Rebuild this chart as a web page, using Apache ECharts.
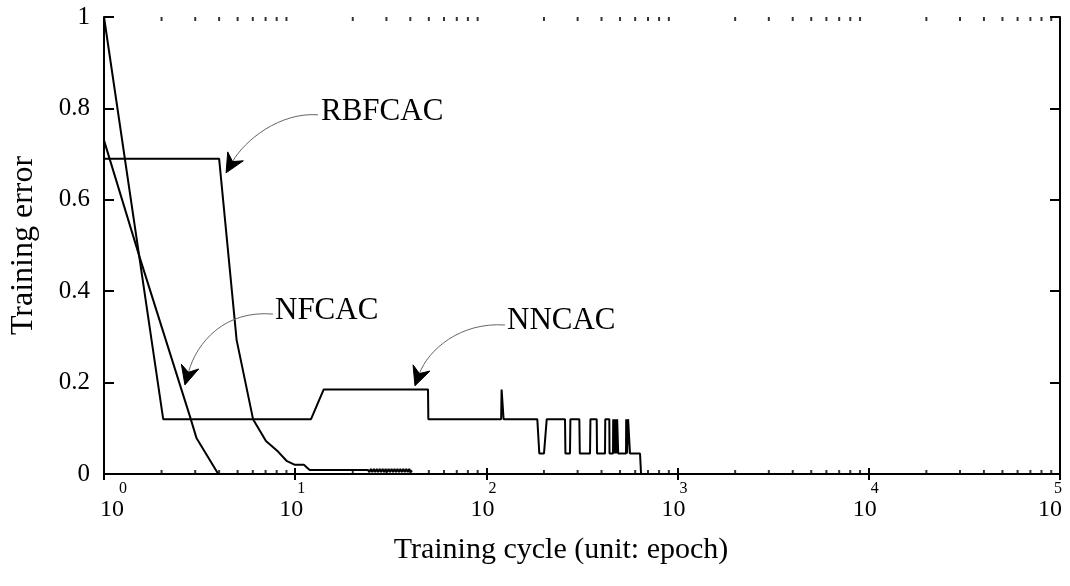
<!DOCTYPE html>
<html>
<head>
<meta charset="utf-8">
<script src="https://cdn.jsdelivr.net/npm/echarts@6/dist/echarts.min.js"></script>
<style>
html, body { margin: 0; padding: 0; background: #fff; }
#chart { width: 1070px; height: 586px; }
</style>
</head>
<body>
<div id="chart"></div>
<script>
// Training error vs. training cycle (log scale), three controllers
const nncac = [
  [1, 1.0], [2.04, 0.12], [12.1, 0.12], [14.1, 0.185], [49.5, 0.185], [49.7, 0.12],
  [119.4, 0.12], [120.1, 0.185], [123, 0.12],
  [184.6, 0.12], [189.1, 0.045], [200.1, 0.045], [206.8, 0.12],
  [257.7, 0.12], [259, 0.045], [273.6, 0.045], [275, 0.12],
  [306.2, 0.12], [308, 0.045], [348.3, 0.045], [350, 0.12],
  [377.5, 0.12], [379, 0.045], [417.2, 0.045], [418.5, 0.12],
  [439.4, 0.12], [440.5, 0.045], [459.4, 0.045], [460.5, 0.12], [465, 0.12], [466, 0.045],
  [470.6, 0.045], [471.5, 0.12], [476.3, 0.12], [477, 0.045], [482.1, 0.045], [483, 0.12],
  [487.9, 0.12], [489, 0.045], [537.2, 0.045], [538.5, 0.12], [543.7, 0.12], [544.5, 0.045],
  [550.3, 0.045], [551, 0.12], [556.9, 0.12], [563.7, 0.045],
  [636, 0.045], [644, 0], [100000, 0]
];
const rbfcac = [
  [1, 0.69], [4.0, 0.69], [4.94, 0.293], [6.02, 0.12], [7.03, 0.072], [8.13, 0.049],
  [9.06, 0.028], [9.97, 0.02], [11.1, 0.02], [11.9, 0.009], [24, 0.009],
  [24.43, 0.004], [24.87, 0.011], [25.31, 0.004], [25.77, 0.011], [26.23, 0.004], [26.70, 0.011],
  [27.18, 0.004], [27.67, 0.011], [28.16, 0.004], [28.67, 0.011], [29.18, 0.004], [29.71, 0.011],
  [30.24, 0.004], [30.78, 0.011], [31.33, 0.004], [31.90, 0.011], [32.47, 0.004], [33.05, 0.011],
  [33.64, 0.004], [34.25, 0.011], [34.86, 0.004], [35.49, 0.011], [36.12, 0.004], [36.77, 0.011],
  [37.43, 0.004], [38.10, 0.011], [38.79, 0.004], [39.48, 0.011], [40.19, 0.004], [40.8, 0.008]
];
const nfcac = [
  [1, 0.73], [1.54, 0.473], [2.82, 0.125], [3.05, 0.078], [3.96, 0]
];

// log-axis minor tick values (2..9 within each decade)
const minorTicks = [
  2, 3, 4, 5, 6, 7, 8, 9,
  20, 30, 40, 50, 60, 70, 80, 90,
  200, 300, 400, 500, 600, 700, 800, 900,
  2000, 3000, 4000, 5000, 6000, 7000, 8000, 9000,
  20000, 30000, 40000, 50000, 60000, 70000, 80000, 90000
];

// callouts: label anchor and arrow path [start, ctrl1, ctrl2, tip] in data units
const callouts = [
  { text: 'RBFCAC', at: [13.64, 0.793], path: [[13.16, 0.786], [8.33, 0.792], [5.46, 0.731], [4.35, 0.659]] },
  { text: 'NFCAC',  at: [7.84, 0.356],  path: [[7.65, 0.350], [4.29, 0.359], [3.06, 0.289], [2.65, 0.195]] },
  { text: 'NNCAC',  at: [128.2, 0.336], path: [[125.1, 0.326], [72.8, 0.333], [49.5, 0.271], [42.3, 0.193]] }
];

const FONT = '"Liberation Serif", "Times New Roman", serif';
const chart = echarts.init(document.getElementById('chart'), null, { renderer: 'canvas' });

function lineSeries(name, data) {
  return {
    name, type: 'line', data, showSymbol: false, symbol: 'none',
    lineStyle: { color: '#000', width: 2 }, animation: false, z: 3
  };
}

const axisLineStyle = { color: '#000', width: 2 };
const expStyle = { fontFamily: FONT, fontSize: 16, color: '#000', align: 'center', lineHeight: 17 };
const baseStyle = { fontFamily: FONT, fontSize: 24, color: '#000', align: 'center', lineHeight: 26 };

const option = {
  backgroundColor: '#fff',
  animation: false,
  grid: { left: 104, right: 10, top: 17, bottom: 112, containLabel: false, outerBoundsMode: 'none' },
  xAxis: [
    {
      type: 'log', logBase: 10, min: 1, max: 100000, position: 'bottom',
      name: 'Training cycle (unit: epoch)', nameLocation: 'middle', nameGap: 61,
      nameTextStyle: { fontFamily: FONT, fontSize: 30, color: '#000', padding: [0, 42, 0, 0] },
      axisLine: { show: true, lineStyle: axisLineStyle },
      axisTick: { show: true, inside: true, length: 6, lineStyle: { color: '#000', width: 2 } },
      splitLine: { show: false },
      axisLabel: {
        show: true, margin: 6, showMinLabel: true, showMaxLabel: true,
        formatter: function (v) {
          const e = Math.round(Math.log10(v));
          const k = e === 0 ? '0' : (e === 5 ? '5' : 'm');
          return '{e' + k + '|' + e + '}\n{b' + k + '|10}';
        },
        rich: {
          em: Object.assign({}, expStyle, { padding: [0, 0, 0, 12] }),
          bm: Object.assign({}, baseStyle, { padding: [0, 8, 0, 0] }),
          e0: Object.assign({}, expStyle, { padding: [0, 0, 0, 38] }),
          b0: Object.assign({}, baseStyle, { padding: [0, 0, 0, 16] }),
          e5: Object.assign({}, expStyle, { padding: [0, 4, 0, 0] }),
          b5: Object.assign({}, baseStyle, { padding: [0, 20, 0, 0] })
        }
      }
    },
    {
      type: 'log', logBase: 10, min: 1, max: 100000, position: 'top',
      axisLine: { show: true, lineStyle: axisLineStyle },
      axisTick: { show: true, inside: true, length: 6, lineStyle: { color: '#000', width: 2 } },
      axisLabel: { show: false }, splitLine: { show: false }
    }
  ],
  yAxis: [
    {
      type: 'value', min: 0, max: 1, interval: 0.2, position: 'left',
      name: 'Training error', nameLocation: 'middle', nameGap: 64,
      nameTextStyle: { fontFamily: FONT, fontSize: 32, color: '#000' },
      axisLine: { show: true, lineStyle: axisLineStyle },
      axisTick: { show: true, inside: true, length: 10, lineStyle: { color: '#000', width: 2 } },
      splitLine: { show: false },
      axisLabel: { fontFamily: FONT, fontSize: 25, color: '#000', margin: 14 }
    },
    {
      type: 'value', min: 0, max: 1, interval: 0.2, position: 'right',
      axisLine: { show: true, lineStyle: axisLineStyle },
      axisTick: { show: true, inside: true, length: 10, lineStyle: { color: '#000', width: 2 } },
      axisLabel: { show: false }, splitLine: { show: false }
    }
  ],
  series: [
    lineSeries('NNCAC', nncac),
    lineSeries('RBFCAC', rbfcac),
    lineSeries('NFCAC', nfcac),
    {
      name: 'minor-bottom', type: 'scatter', silent: true, animation: false,
      data: minorTicks.map(v => [v, 0]), symbol: 'rect', symbolSize: [2, 4], symbolOffset: [0, -2],
      itemStyle: { color: '#000' }, clip: false, z: 4
    },
    {
      name: 'minor-top', type: 'scatter', silent: true, animation: false,
      data: minorTicks.map(v => [v, 1]), symbol: 'rect', symbolSize: [2, 4], symbolOffset: [0, 2],
      itemStyle: { color: '#000' }, clip: false, z: 4
    }
  ]
};

chart.setOption(option);

// callout labels with curved arrows
function toPx(p) {
  return chart.convertToPixel({ xAxisIndex: 0, yAxisIndex: 0 }, p);
}
const graphics = [];
callouts.forEach(function (c) {
  const a = toPx(c.at);
  const p0 = toPx(c.path[0]), c1 = toPx(c.path[1]), c2 = toPx(c.path[2]), tip = toPx(c.path[3]);
  let dx = tip[0] - c2[0], dy = tip[1] - c2[1];
  const len = Math.hypot(dx, dy); dx /= len; dy /= len;
  const nx = -dy, ny = dx;
  const L = 19, notch = 6, w = 9;
  const end = [tip[0] - dx * (L - notch), tip[1] - dy * (L - notch)];
  graphics.push({
    type: 'bezierCurve', silent: true, z: 10,
    shape: { x1: p0[0], y1: p0[1], cpx1: c1[0], cpy1: c1[1], cpx2: c2[0], cpy2: c2[1], x2: end[0], y2: end[1] },
    style: { stroke: '#666', lineWidth: 1, fill: null }
  });
  graphics.push({
    type: 'polygon', silent: true, z: 11,
    shape: { points: [
      tip,
      [tip[0] - dx * L + nx * w, tip[1] - dy * L + ny * w],
      end,
      [tip[0] - dx * L - nx * w, tip[1] - dy * L - ny * w]
    ] },
    style: { fill: '#000', stroke: '#000', lineWidth: 1 }
  });
  graphics.push({
    type: 'text', silent: true, z: 11, x: a[0], y: a[1],
    style: { text: c.text, font: '31px ' + FONT, fill: '#000', align: 'left', verticalAlign: 'middle',
             textAlign: 'left', textVerticalAlign: 'middle' }
  });
});
chart.setOption({ graphic: graphics });
</script>
</body>
</html>
